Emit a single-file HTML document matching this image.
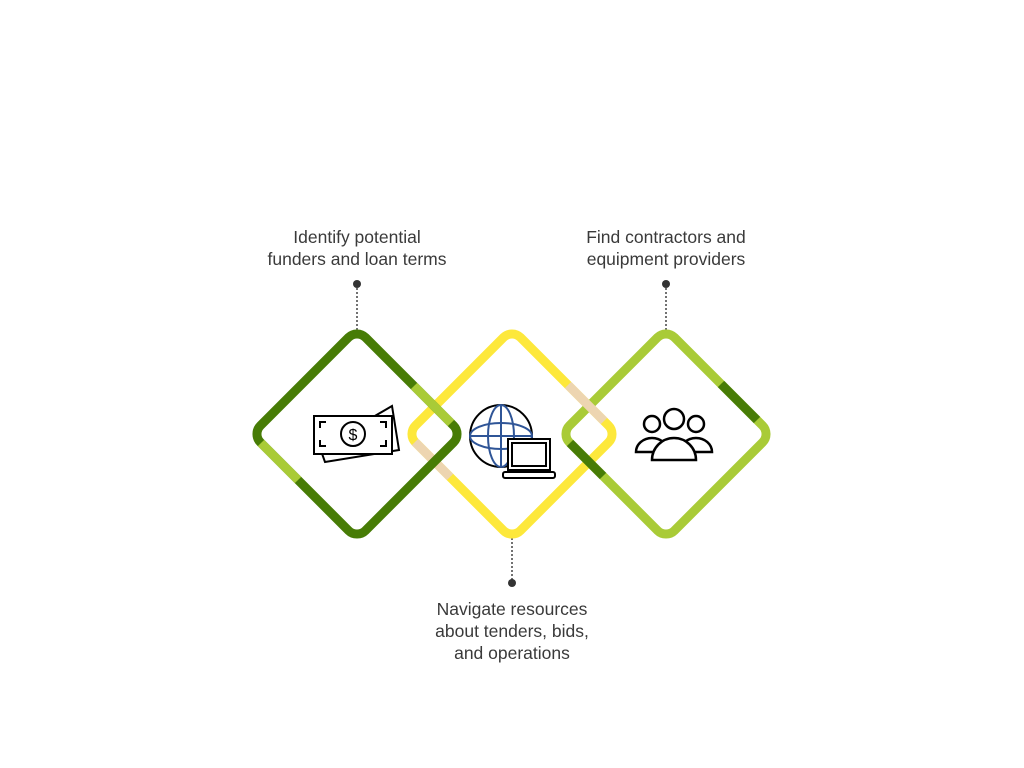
<!DOCTYPE html>
<html><head><meta charset="utf-8"><style>
html,body{margin:0;padding:0;background:#fff;width:1024px;height:768px;overflow:hidden}
.t{position:absolute;font-family:"Liberation Sans",sans-serif;font-size:17.5px;line-height:22px;color:#3a3a3a;text-align:center;width:260px}
</style></head><body>
<div class="t" style="left:227px;top:226px">Identify potential<br>funders and loan terms</div>
<div class="t" style="left:536px;top:226px">Find contractors and<br>equipment providers</div>
<div class="t" style="left:382px;top:598px">Navigate resources<br>about tenders, bids,<br>and operations</div>
<svg width="1024" height="768" style="position:absolute;left:0;top:0" xmlns="http://www.w3.org/2000/svg">
<g stroke="#444" stroke-width="1.5" stroke-dasharray="2,2" fill="none">
<line x1="357" y1="288" x2="357" y2="330"/>
<line x1="666" y1="288" x2="666" y2="330"/>
<line x1="512" y1="538" x2="512" y2="580"/>
</g>
<g fill="#333"><circle cx="357" cy="284" r="4"/><circle cx="666" cy="284" r="4"/><circle cx="512" cy="583" r="4"/></g>
<g fill="none" stroke-width="9">
<rect x="437.75" y="359.75" width="148.5" height="148.5" rx="12" transform="rotate(45 512 434)" stroke="#fde83b"/>
<line x1="415" y1="442" x2="450" y2="477" stroke="#edd5b1"/>
<rect x="282.75" y="359.75" width="148.5" height="148.5" rx="12" transform="rotate(45 357 434)" stroke="#477c06"/>
<line x1="414" y1="386" x2="451" y2="423" stroke="#a9cb37"/>
<line x1="261" y1="443" x2="298" y2="480" stroke="#a9cb37"/>
<rect x="591.75" y="359.75" width="148.5" height="148.5" rx="12" transform="rotate(45 666 434)" stroke="#a9cb37"/>
<line x1="721" y1="384" x2="757" y2="420" stroke="#477c06"/>
<line x1="570" y1="443" x2="603" y2="476" stroke="#477c06"/>
<line x1="568" y1="385" x2="604" y2="421" stroke="#edd5b1"/>
</g>
<g fill="none" stroke="#000" stroke-width="2">
<polygon points="320,448 392,406 399,450 325,462" fill="#fff"/>
<rect x="314" y="416" width="78" height="38" fill="#fff"/>
<circle cx="353" cy="434" r="12"/>
<path d="M320 428v-6h6M386 428v-6h-6M320 440v6h6M386 440v6h-6"/>
</g>
<text x="353" y="440" font-family="Liberation Sans,sans-serif" font-size="16" text-anchor="middle" fill="#000">$</text>
<g fill="none" stroke-width="2">
<circle cx="501" cy="436" r="31" stroke="#000" fill="#fff"/>
<ellipse cx="501" cy="436" rx="13" ry="31" stroke="#2f5597"/>
<ellipse cx="501" cy="436" rx="31" ry="13" stroke="#2f5597"/>
<line x1="501" y1="405" x2="501" y2="467" stroke="#2f5597"/>
<line x1="470" y1="436" x2="532" y2="436" stroke="#2f5597"/>
<rect x="508" y="439" width="42" height="31" stroke="#000" fill="#fff"/>
<rect x="512" y="443" width="34" height="23" stroke="#000"/>
<rect x="503" y="472" width="52" height="6" rx="2" stroke="#000" fill="#fff"/>
</g>
<g fill="#fff" stroke="#000" stroke-width="2.5">
<circle cx="652" cy="424" r="8"/><circle cx="696" cy="424" r="8"/>
<path d="M636 452a16 14 0 0 1 32 0Z"/><path d="M680 452a16 14 0 0 1 32 0Z"/>
<circle cx="674" cy="419" r="10"/>
<path d="M652 460a22 22 0 0 1 44 0Z"/>
</g>
</svg>
</body></html>
